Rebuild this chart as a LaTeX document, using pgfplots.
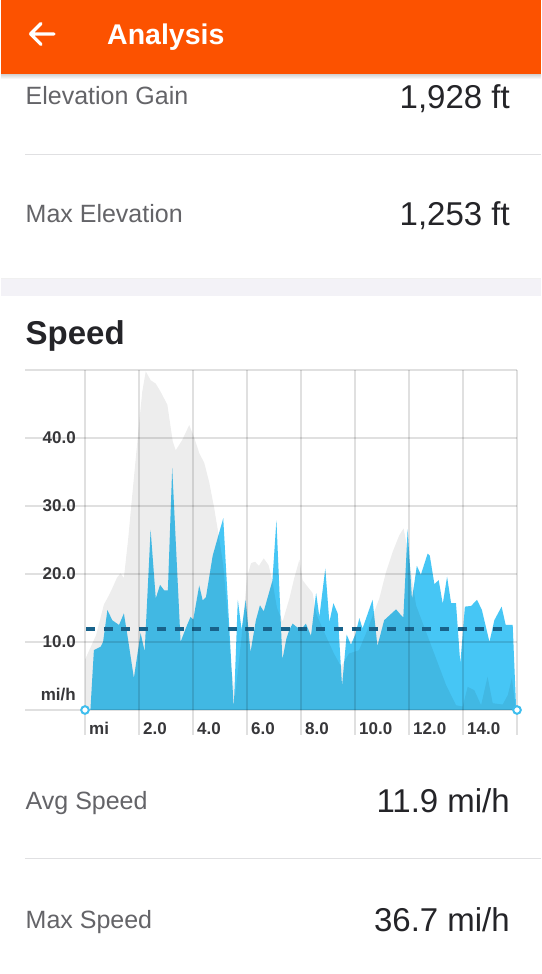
\documentclass[border=0pt]{standalone}
\usepackage{pgfplots}
\pgfplotsset{compat=1.18}
\usepackage{fontspec}
\setmainfont{Liberation Sans}
\definecolor{stravaorange}{RGB}{252,82,0}
\definecolor{speedblue}{RGB}{70,198,245}
\definecolor{avgblue}{RGB}{24,98,138}
\definecolor{circlecyan}{RGB}{62,190,238}
\definecolor{labelgray}{RGB}{100,100,104}
\definecolor{valuedark}{RGB}{36,36,40}
\definecolor{tickgray}{RGB}{55,55,58}
\definecolor{sepgray}{RGB}{224,224,226}
\definecolor{bandgray}{RGB}{243,242,247}

\pgfplotstableread{
x y
0 0
0.20 0
0.33 8.8
0.58 9.3
0.67 10.0
0.83 14.7
1.01 13.2
1.26 12.5
1.44 14.2
1.57 11.0
1.81 4.7
2.06 11.3
2.21 8.6
2.43 26.5
2.62 16.4
2.78 18.4
2.93 17.6
3.07 17.6
3.23 35.6
3.54 10.0
3.73 12.0
3.91 13.7
4.01 13.3
4.23 18.3
4.36 16.1
4.48 16.6
4.73 22.7
5.12 28.2
5.51 0.2
5.66 16.2
5.80 11.8
5.95 16.2
6.13 8.5
6.33 13.2
6.48 15.4
6.62 14.5
6.94 19.0
7.09 27.9
7.31 7.4
7.46 10.5
7.57 11.8
7.69 12.7
7.81 12.3
8.00 11.8
8.18 12.7
8.37 10.9
8.56 17.2
8.68 13.7
8.90 20.8
9.05 12.9
9.20 15.7
9.36 14.2
9.52 3.5
9.69 11.1
9.85 9.6
10.01 11.1
10.16 13.5
10.28 12.0
10.65 16.2
10.83 9.4
11.08 13.2
11.52 14.8
11.67 14.1
11.79 13.6
11.95 26.6
12.11 16.3
12.29 21.2
12.44 19.9
12.69 23.0
12.77 22.7
12.94 18.5
13.10 19.1
13.25 15.6
13.41 19.6
13.56 15.7
13.74 15.7
13.90 6.8
14.07 15.2
14.30 15.3
14.52 16.2
14.70 14.7
14.98 10.0
15.16 13.2
15.43 15.2
15.58 12.5
15.84 12.5
15.97 0
16 0
}\speedtable

\pgfplotstableread{
x y
0 7.4
0.41 11
0.70 15.5
0.89 16.9
1.01 17.9
1.19 19.5
1.32 20.1
1.44 19.4
1.60 25.2
1.75 31.6
1.94 39.5
2.12 46.8
2.25 49.8
2.43 48.5
2.62 48.0
2.80 46.8
3.05 44.9
3.25 39.5
3.36 38.2
3.60 39.7
3.86 41.9
4.05 40.0
4.23 37.8
4.42 36.3
4.60 33.5
4.78 29.8
4.96 25.5
5.12 21.3
5.29 13.5
5.41 6.6
5.56 2.0
5.78 10.0
6.00 19.5
6.15 21.6
6.30 21.8
6.44 21.2
6.62 22.3
6.80 21.3
6.94 19.0
7.11 15.0
7.32 13.0
7.57 16.4
7.75 19.4
7.94 22.1
8.06 19.1
8.25 18.1
8.43 17.2
8.56 14.2
8.93 10.8
9.22 8.3
9.48 6.4
9.78 8.3
10.15 8.8
10.41 11.3
10.67 14.0
10.90 16.4
11.15 20.3
11.40 23.3
11.64 25.7
11.80 26.7
11.93 24.0
12.26 15.4
12.63 11.5
13.00 7.6
13.37 3.7
13.74 0.7
13.99 0.5
14.17 3.4
14.42 2.9
14.67 0.7
14.91 4.9
15.10 1.0
15.47 0.8
15.66 2.2
15.81 4.7
15.96 0
16 0
}\elevtable

\begin{document}
\begin{tikzpicture}[x=1pt,y=1pt]
% page background
\fill[white] (0,0) rectangle (540,974);
% header
\fill[stravaorange] (0,899) rectangle (540,974);
\shade[top color=black!14, bottom color=white] (0,895) rectangle (540,899);
\draw[white, line width=3.2pt, line cap=round, line join=round]
  (29.5,940)--(53,940) (40,950.5)--(29.5,940)--(40,929.5);
\node[anchor=base west, inner sep=0pt, text=white,
  font=\fontsize{28.5}{34}\selectfont\bfseries] at (106,929) {Analysis};

% rows
\node[anchor=base west, inner sep=0pt, text=labelgray,
  font=\fontsize{25}{30}\selectfont] at (24.5,869.3) {Elevation Gain};
\node[anchor=base east, inner sep=0pt, text=valuedark,
  font=\fontsize{33}{38}\selectfont] at (509,865.7) {1,928 ft};
\draw[sepgray, line width=1.4pt] (24,819.7) -- (540,819.7);
\node[anchor=base west, inner sep=0pt, text=labelgray,
  font=\fontsize{25}{30}\selectfont] at (24.5,751.3) {Max Elevation};
\node[anchor=base east, inner sep=0pt, text=valuedark,
  font=\fontsize{33}{38}\selectfont] at (509,748) {1,253 ft};

% band
\fill[bandgray] (0,678) rectangle (540,695.7);
\draw[black!6, line width=0.8pt] (0,695.7) -- (540,695.7);

% Speed title
\node[anchor=base west, inner sep=0pt, text=valuedark,
  font=\fontsize{33}{38}\selectfont\bfseries] at (24.5,629) {Speed};

\begin{axis}[
  at={(24pt,264pt)}, anchor=south west,
  scale only axis, width=492pt, height=340pt,
  xmin=-2.2222, xmax=16, ymin=0, ymax=50,
  axis line style={draw=none},
  axis on top,
  clip=false,
  xtick={0,2,...,16},
  xticklabels={mi,2.0,4.0,6.0,8.0,10.0,12.0,14.0,{}},
  ytick={0,10,...,50},
  yticklabels={{},10.0,20.0,30.0,40.0,{}},
  grid=major,
  major grid style={black, opacity=0.12, line width=1.4pt},
  xtick pos=lower, ytick pos=left,
  tick align=outside, major tick length=25pt,
  xtick style={black, opacity=0.12, line width=1.4pt},
  ytick style={draw=none},
  ticklabel style={font=\fontsize{17}{20}\selectfont\bfseries, text=tickgray},
  xticklabel style={anchor=base west, inner sep=0pt, xshift=4pt, yshift=0.5pt},
  yticklabel style={anchor=east, inner sep=0pt, xshift=76pt},
]
\addplot[draw=none, fill=speedblue] table[x=x,y=y] {\speedtable} \closedcycle;
\addplot[draw=none, fill=black, fill opacity=0.07] table[x=x,y=y] {\elevtable} \closedcycle;
\addplot[avgblue, line width=3.2pt, dash pattern=on 9pt off 8.7pt] coordinates {(0.04,11.9) (15.70,11.9)};
\addplot[only marks, mark=*, mark size=3.8pt,
  mark options={draw=circlecyan, fill=white, line width=2pt}] coordinates {(0,0) (16,0)};
\node[anchor=base east, inner sep=0pt, text=tickgray,
  font=\fontsize{17}{20}\selectfont\bfseries, yshift=9.3pt] at (axis cs:-0.333,0) {mi/h};
\end{axis}

% bottom rows
\node[anchor=base west, inner sep=0pt, text=labelgray,
  font=\fontsize{25}{30}\selectfont] at (24.5,164.7) {Avg Speed};
\node[anchor=base east, inner sep=0pt, text=valuedark,
  font=\fontsize{33}{38}\selectfont] at (509,161.3) {11.9 mi/h};
\draw[sepgray, line width=1.4pt] (24,115.7) -- (540,115.7);
\node[anchor=base west, inner sep=0pt, text=labelgray,
  font=\fontsize{25}{30}\selectfont] at (24.5,45.7) {Max Speed};
\node[anchor=base east, inner sep=0pt, text=valuedark,
  font=\fontsize{33}{38}\selectfont] at (509,42.3) {36.7 mi/h};
\end{tikzpicture}
\end{document}
